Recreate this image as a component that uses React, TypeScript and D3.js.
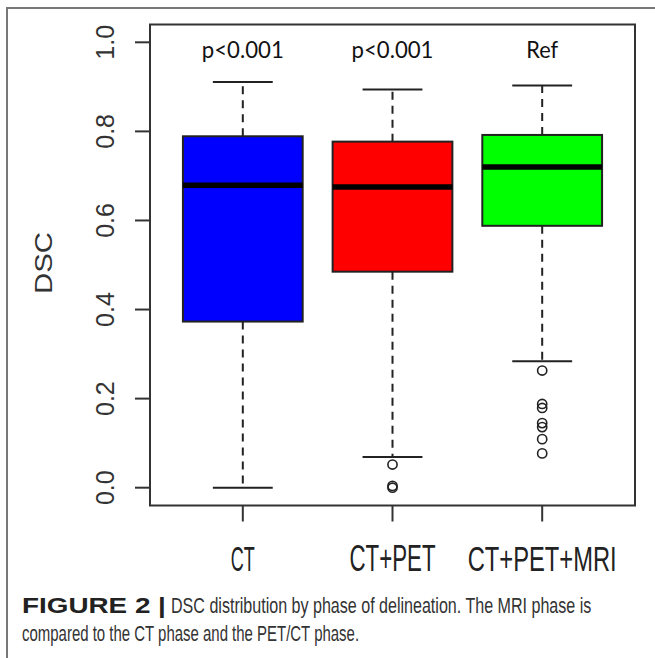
import React from 'react'
import * as d3 from 'd3'

// boxplot statistics
const categories = ['CT', 'CT+PET', 'CT+PET+MRI']
const q1 = [0.373, 0.485, 0.588]
const medians = [0.679, 0.675, 0.72]
const q3 = [0.789, 0.777, 0.792]
const whiskerLow = [0.0, 0.069, 0.284]
const whiskerHigh = [0.911, 0.894, 0.903]
const outliers = [[], [0.052, 0.004, 0.0], [0.263, 0.188, 0.179, 0.145, 0.136, 0.109, 0.077]]
const fills = ['#0000ff', '#ff0000', '#00ff00']
const pLabels = ['p<0.001', 'p<0.001', 'Ref']
const yTicks = [0, 0.2, 0.4, 0.6, 0.8, 1.0]

const W = 655
const H = 658

// measure text once, so condensed labels can be squeezed with a scale transform
let ctx: CanvasRenderingContext2D | null = null
function textWidth(str: string, font: string) {
  if (!ctx) ctx = document.createElement('canvas').getContext('2d')
  if (!ctx) return str.length * 10
  ctx.font = font
  return ctx.measureText(str).width
}

// text squeezed horizontally to a target width
function Squeezed({ x, y, width, anchor, size, weight, family, fill, children }: any) {
  const natural = textWidth(children, `${weight || 'normal'} ${size}px ${family}`)
  const sx = width / natural
  return (
    <text
      transform={`translate(${x},${y}) scale(${sx},1)`}
      textAnchor={anchor || 'start'}
      fontFamily={family}
      fontSize={size}
      fontWeight={weight || 'normal'}
      fill={fill}
    >
      {children}
    </text>
  )
}

export default function App() {
  const left = 150
  const right = 635
  const top = 24.5
  const bottom = 505.5

  // R style: ylim (0,1) padded by 4%, xlim (0.5, 3.5) padded by 4%
  const y = d3.scaleLinear().domain([-0.04, 1.04]).range([bottom, top])
  const x = d3.scaleLinear().domain([0.38, 3.62]).range([left, right])
  const half = x(1.4) - x(1)
  const staple = half / 2

  const fmt = d3.format('.1f')
  const labelWidths = [82, 82, 32]
  const catWidths = [24, 86, 149]
  const sans = 'Liberation Sans, Arial, sans-serif'

  return (
    <div style={{ position: 'absolute', left: 0, top: 0 }}>
      <svg width={W} height={H} style={{ display: 'block', background: '#fff' }}>
        {/* outer frame */}
        <line x1={6} x2={W} y1={8} y2={8} stroke="#777" strokeWidth={2} />
        <line x1={7} x2={7} y1={8} y2={H} stroke="#777" strokeWidth={2} />

        {/* y axis */}
        <line x1={left} x2={left} y1={y(0)} y2={y(1)} stroke="#333" strokeWidth={2} />
        {yTicks.map(t => (
          <g key={t}>
            <line x1={left - 15} x2={left} y1={y(t)} y2={y(t)} stroke="#333" strokeWidth={2} />
            <text
              transform={`translate(${114},${y(t)}) rotate(-90)`}
              textAnchor="middle"
              fontFamily={sans}
              fontSize={25}
              fill="#333"
            >
              {fmt(t)}
            </text>
          </g>
        ))}
        <text
          transform={`translate(${52},${263}) rotate(-90) scale(${62 / textWidth('DSC', `24px ${sans}`)},1)`}
          textAnchor="middle"
          fontFamily={sans}
          fontSize={24}
          fill="#333"
        >
          DSC
        </text>

        {/* boxes */}
        {categories.map((c, i) => {
          const cx = x(i + 1)
          return (
            <g key={c}>
              <line x1={cx} x2={cx} y1={y(q3[i])} y2={y(whiskerHigh[i])} stroke="#222" strokeWidth={2} strokeDasharray="8,6" />
              <line x1={cx} x2={cx} y1={y(q1[i])} y2={y(whiskerLow[i])} stroke="#222" strokeWidth={2} strokeDasharray="8,6" />
              <line x1={cx - staple} x2={cx + staple} y1={y(whiskerHigh[i])} y2={y(whiskerHigh[i])} stroke="#222" strokeWidth={2} />
              <line x1={cx - staple} x2={cx + staple} y1={y(whiskerLow[i])} y2={y(whiskerLow[i])} stroke="#222" strokeWidth={2} />
              <rect
                x={cx - half}
                y={y(q3[i])}
                width={half * 2}
                height={y(q1[i]) - y(q3[i])}
                fill={fills[i]}
                stroke="#222"
                strokeWidth={2}
              />
              <line x1={cx - half} x2={cx + half} y1={y(medians[i])} y2={y(medians[i])} stroke="#000" strokeWidth={5.5} />
              {outliers[i].map((o, j) => (
                <circle key={j} cx={cx} cy={y(o)} r={4.6} fill="none" stroke="#222" strokeWidth={1.6} />
              ))}
              <Squeezed x={cx} y={58} width={labelWidths[i]} anchor="middle" size={24} family="Lato, Open Sans, sans-serif" fill="#111">
                {pLabels[i]}
              </Squeezed>
              <line x1={cx} x2={cx} y1={bottom} y2={bottom + 16} stroke="#333" strokeWidth={2} />
              <Squeezed x={cx} y={571} width={catWidths[i]} anchor="middle" size={36} family={sans} fill="#222">
                {c}
              </Squeezed>
            </g>
          )
        })}

        {/* plot frame */}
        <rect x={left} y={top} width={right - left} height={bottom - top} fill="none" stroke="#333" strokeWidth={2} />

        {/* caption */}
        <Squeezed x={22} y={613} width={144} size={22} weight="bold" family={sans} fill="#222">
          FIGURE 2 |
        </Squeezed>
        <Squeezed x={171} y={613} width={421} size={22} family={sans} fill="#333">
          DSC distribution by phase of delineation. The MRI phase is
        </Squeezed>
        <Squeezed x={22} y={641} width={338} size={22} family={sans} fill="#333">
          compared to the CT phase and the PET/CT phase.
        </Squeezed>
      </svg>
    </div>
  )
}
